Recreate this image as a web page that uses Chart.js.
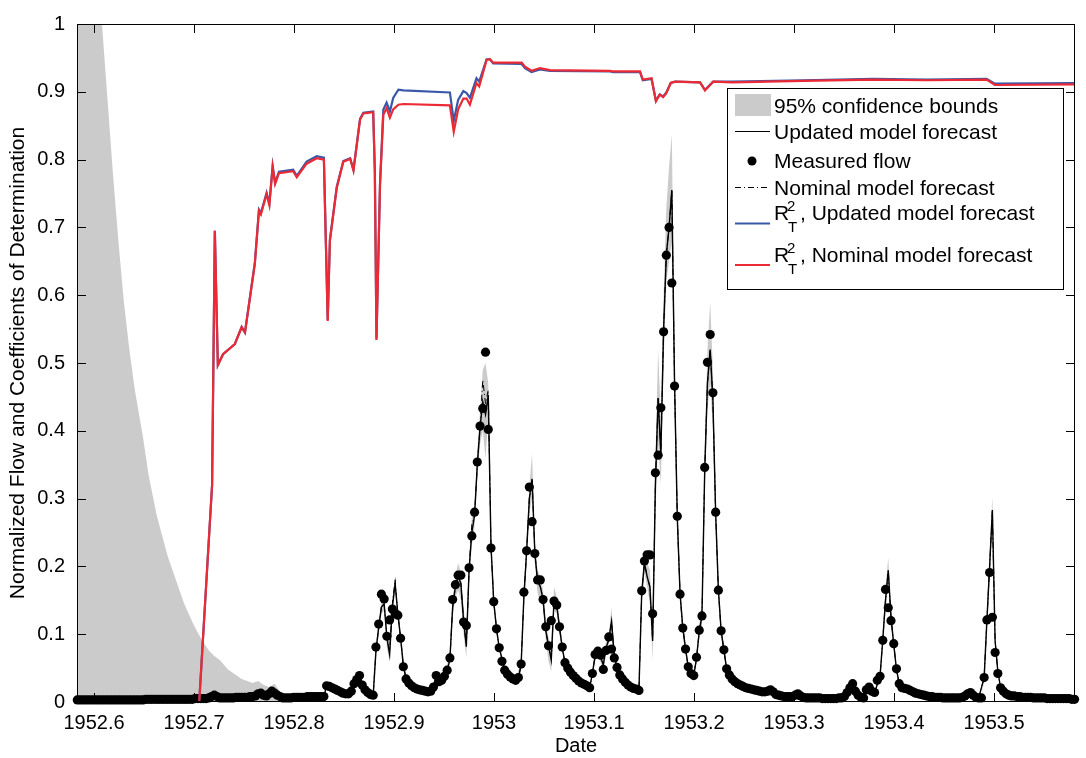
<!DOCTYPE html>
<html>
<head>
<meta charset="utf-8">
<title>Normalized flow forecast</title>
<script src="https://cdn.jsdelivr.net/npm/chart.js@4.4.0/dist/chart.umd.min.js"></script>
<style>
  html, body { margin: 0; padding: 0; background: #fff; }
  #wrap { width: 1086px; height: 758px; }
</style>
</head>
<body>
<div id="wrap"><canvas id="flowChart" width="1086" height="758"></canvas></div>
<script>
// first measured day, as decimal year; one value per day after that
var startYear = 1952.5833;

var measuredFlow = [
  0.003, 0.003, 0.003, 0.003, 0.003, 0.003, 0.003, 0.003, 0.003, 0.003,
  0.003, 0.003, 0.003, 0.003, 0.003, 0.003, 0.003, 0.003, 0.003, 0.003,
  0.003, 0.003, 0.003, 0.003, 0.003, 0.004, 0.004, 0.004, 0.004, 0.004,
  0.004, 0.004, 0.004, 0.004, 0.004, 0.004, 0.004, 0.004, 0.004, 0.004,
  0.004, 0.004, 0.004, 0.005, 0.005, 0.005, 0.005, 0.005, 0.006, 0.008,
  0.010, 0.008, 0.006, 0.006, 0.006, 0.006, 0.006, 0.006, 0.007, 0.007,
  0.007, 0.007, 0.007, 0.008, 0.008, 0.009, 0.012, 0.013, 0.010, 0.009,
  0.012, 0.016, 0.013, 0.010, 0.008, 0.006, 0.006, 0.006, 0.006, 0.007,
  0.007, 0.007, 0.007, 0.007, 0.008, 0.008, 0.008, 0.008, 0.008, 0.008,
  0.008, 0.024, 0.023, 0.021, 0.019, 0.017, 0.015, 0.013, 0.012, 0.012,
  0.016, 0.027, 0.033, 0.039, 0.025, 0.018, 0.014, 0.011, 0.010, 0.081,
  0.115, 0.159, 0.152, 0.097, 0.121, 0.137, 0.130, 0.128, 0.094, 0.052,
  0.034, 0.028, 0.024, 0.021, 0.019, 0.018, 0.017, 0.016, 0.015, 0.016,
  0.022, 0.039, 0.030, 0.032, 0.038, 0.047, 0.065, 0.151, 0.173, 0.187,
  0.187, 0.118, 0.113, 0.198, 0.245, 0.280, 0.354, 0.407, 0.433, 0.516,
  0.402, 0.227, 0.148, 0.108, 0.080, 0.060, 0.047, 0.041, 0.037, 0.034,
  0.032, 0.036, 0.056, 0.162, 0.223, 0.317, 0.266, 0.219, 0.180, 0.180,
  0.151, 0.111, 0.083, 0.120, 0.149, 0.143, 0.111, 0.081, 0.058, 0.050,
  0.044, 0.039, 0.035, 0.031, 0.028, 0.026, 0.024, 0.021, 0.042, 0.070,
  0.075, 0.069, 0.048, 0.076, 0.096, 0.078, 0.065, 0.051, 0.040, 0.034,
  0.029, 0.025, 0.022, 0.020, 0.019, 0.017, 0.164, 0.208, 0.217, 0.217,
  0.130, 0.338, 0.364, 0.434, 0.546, 0.659, 0.700, 0.618, 0.466, 0.274,
  0.159, 0.109, 0.078, 0.052, 0.042, 0.039, 0.066, 0.106, 0.127, 0.346,
  0.501, 0.542, 0.456, 0.280, 0.165, 0.105, 0.077, 0.049, 0.040, 0.034,
  0.030, 0.027, 0.025, 0.023, 0.021, 0.020, 0.019, 0.018, 0.017, 0.016,
  0.015, 0.015, 0.016, 0.018, 0.015, 0.011, 0.010, 0.009, 0.008, 0.008,
  0.008, 0.008, 0.010, 0.012, 0.009, 0.007, 0.006, 0.006, 0.006, 0.006,
  0.006, 0.006, 0.005, 0.005, 0.005, 0.005, 0.005, 0.005, 0.006, 0.006,
  0.008, 0.014, 0.021, 0.027, 0.016, 0.010, 0.007, 0.006, 0.018, 0.022,
  0.016, 0.014, 0.032, 0.038, 0.091, 0.166, 0.139, 0.120, 0.086, 0.049,
  0.027, 0.021, 0.020, 0.019, 0.017, 0.015, 0.013, 0.012, 0.011, 0.010,
  0.009, 0.008, 0.008, 0.007, 0.007, 0.007, 0.006, 0.006, 0.006, 0.006,
  0.006, 0.006, 0.006, 0.007, 0.009, 0.012, 0.014, 0.010, 0.007, 0.006,
  0.006, 0.036, 0.121, 0.191, 0.125, 0.073, 0.042, 0.021, 0.016, 0.012,
  0.010, 0.009, 0.009, 0.008, 0.008, 0.007, 0.007, 0.007, 0.007, 0.006,
  0.006, 0.006, 0.006, 0.006, 0.005, 0.005, 0.005, 0.005, 0.005, 0.005,
  0.005, 0.005, 0.005, 0.004, 0.004
];

// model forecasts, given at key days (day number from startYear)
var fcstDays = [
  0, 42, 49, 50, 52, 63, 66, 67, 69, 71,
  73, 75, 79, 90, 91, 99, 101, 103, 105, 108,
  109, 110, 111, 112, 113, 114, 115, 116, 117, 118,
  119, 120, 125, 129, 131, 133, 135, 136, 137, 138,
  139, 140, 141, 142, 143, 144, 145, 146, 147, 148,
  149, 150, 151, 152, 153, 154, 156, 158, 160, 161,
  162, 163, 164, 165, 166, 167, 168, 169, 170, 171,
  172, 173, 174, 175, 176, 177, 178, 181, 187, 188,
  189, 190, 191, 192, 193, 194, 195, 196, 197, 199,
  205, 206, 207, 208, 209, 210, 211, 212, 213, 214,
  215, 216, 217, 218, 219, 220, 221, 222, 223, 225,
  226, 227, 228, 229, 230, 231, 232, 233, 234, 235,
  236, 237, 240, 245, 250, 253, 256, 262, 263, 265,
  280, 283, 286, 289, 291, 293, 294, 295, 296, 297,
  298, 299, 300, 305, 312, 320, 326, 329, 331, 332,
  333, 334, 335, 336, 337, 340, 364
];
var updatedFcst = [
  0.003, 0.004, 0.007, 0.010, 0.006, 0.008, 0.012, 0.013, 0.009, 0.016,
  0.010, 0.006, 0.007, 0.008, 0.024, 0.012, 0.027, 0.039, 0.018, 0.010,
  0.075, 0.110, 0.140, 0.145, 0.095, 0.070, 0.140, 0.175, 0.130, 0.095,
  0.053, 0.035, 0.018, 0.016, 0.036, 0.032, 0.046, 0.063, 0.140, 0.170,
  0.185, 0.175, 0.120, 0.082, 0.195, 0.250, 0.275, 0.350, 0.405, 0.443,
  0.424, 0.453, 0.230, 0.148, 0.108, 0.080, 0.048, 0.037, 0.032, 0.035,
  0.055, 0.155, 0.222, 0.300, 0.329, 0.220, 0.178, 0.170, 0.152, 0.105,
  0.083, 0.062, 0.150, 0.143, 0.110, 0.080, 0.058, 0.039, 0.021, 0.042,
  0.068, 0.075, 0.066, 0.055, 0.080, 0.092, 0.119, 0.068, 0.051, 0.034,
  0.017, 0.160, 0.205, 0.185, 0.170, 0.090, 0.320, 0.448, 0.366, 0.550,
  0.660, 0.700, 0.755, 0.470, 0.272, 0.160, 0.110, 0.078, 0.052, 0.039,
  0.064, 0.104, 0.127, 0.340, 0.470, 0.520, 0.445, 0.278, 0.165, 0.105,
  0.077, 0.049, 0.030, 0.020, 0.015, 0.018, 0.010, 0.009, 0.012, 0.007,
  0.007, 0.027, 0.007, 0.022, 0.014, 0.038, 0.092, 0.150, 0.194, 0.125,
  0.085, 0.048, 0.027, 0.015, 0.008, 0.006, 0.014, 0.006, 0.036, 0.120,
  0.200, 0.283, 0.090, 0.045, 0.021, 0.010, 0.005
];
var nominalFcst = [
  0.003, 0.004, 0.007, 0.010, 0.006, 0.008, 0.012, 0.013, 0.009, 0.016,
  0.010, 0.006, 0.007, 0.008, 0.024, 0.012, 0.027, 0.039, 0.018, 0.010,
  0.075, 0.110, 0.140, 0.145, 0.095, 0.075, 0.145, 0.180, 0.130, 0.095,
  0.053, 0.035, 0.018, 0.016, 0.036, 0.032, 0.046, 0.063, 0.140, 0.170,
  0.185, 0.175, 0.120, 0.082, 0.195, 0.262, 0.275, 0.350, 0.405, 0.475,
  0.440, 0.460, 0.230, 0.148, 0.108, 0.080, 0.048, 0.037, 0.032, 0.035,
  0.055, 0.155, 0.222, 0.300, 0.329, 0.220, 0.178, 0.170, 0.152, 0.105,
  0.083, 0.062, 0.150, 0.143, 0.110, 0.080, 0.058, 0.039, 0.021, 0.042,
  0.068, 0.075, 0.066, 0.055, 0.080, 0.092, 0.119, 0.068, 0.051, 0.034,
  0.017, 0.160, 0.205, 0.185, 0.170, 0.090, 0.320, 0.448, 0.366, 0.550,
  0.660, 0.700, 0.755, 0.470, 0.272, 0.160, 0.110, 0.078, 0.052, 0.039,
  0.064, 0.104, 0.127, 0.340, 0.470, 0.520, 0.445, 0.278, 0.165, 0.105,
  0.077, 0.049, 0.030, 0.020, 0.015, 0.018, 0.010, 0.009, 0.012, 0.007,
  0.007, 0.027, 0.007, 0.022, 0.014, 0.038, 0.092, 0.150, 0.194, 0.125,
  0.085, 0.048, 0.027, 0.015, 0.008, 0.006, 0.014, 0.006, 0.036, 0.120,
  0.200, 0.283, 0.090, 0.045, 0.021, 0.010, 0.005
];

// 95% confidence bounds of the updated forecast
var bandDays = [
  0, 4, 7, 9, 11, 13, 15, 17, 19, 21,
  24, 26, 29, 31, 33, 36, 39, 42, 44, 46,
  48, 50, 52, 55, 60, 64, 66, 68, 70, 72,
  74, 76, 79, 90, 91, 99, 103, 105, 108, 109,
  111, 112, 113, 114, 115, 116, 117, 118, 120, 125,
  129, 131, 133, 136, 137, 138, 139, 140, 141, 142,
  143, 144, 145, 146, 147, 148, 149, 150, 151, 152,
  154, 156, 160, 162, 163, 164, 165, 166, 167, 168,
  169, 170, 171, 172, 173, 174, 175, 176, 178, 181,
  187, 188, 189, 190, 191, 192, 193, 194, 195, 196,
  198, 199, 205, 206, 207, 208, 209, 210, 211, 212,
  213, 214, 215, 216, 217, 218, 219, 220, 221, 223,
  225, 226, 227, 228, 229, 230, 231, 232, 233, 234,
  235, 237, 240, 245, 250, 256, 265, 280, 283, 286,
  289, 291, 293, 294, 295, 296, 297, 298, 299, 300,
  305, 320, 326, 329, 330, 331, 332, 333, 334, 335,
  336, 337, 340, 364
];
var bandUpper = [
  1.9, 1.4, 1.12, 1.0, 0.89, 0.78, 0.68, 0.59, 0.52, 0.46,
  0.39, 0.335, 0.275, 0.245, 0.215, 0.18, 0.145, 0.118, 0.102, 0.088,
  0.076, 0.068, 0.062, 0.048, 0.034, 0.028, 0.031, 0.025, 0.022, 0.027,
  0.015, 0.008, 0.009, 0.010, 0.026, 0.013, 0.041, 0.020, 0.012, 0.080,
  0.150, 0.152, 0.105, 0.085, 0.150, 0.182, 0.140, 0.100, 0.037, 0.019,
  0.017, 0.038, 0.034, 0.068, 0.155, 0.185, 0.205, 0.190, 0.140, 0.100,
  0.210, 0.275, 0.290, 0.370, 0.430, 0.490, 0.500, 0.470, 0.245, 0.155,
  0.084, 0.050, 0.034, 0.060, 0.170, 0.240, 0.320, 0.366, 0.235, 0.195,
  0.185, 0.165, 0.120, 0.095, 0.080, 0.170, 0.155, 0.120, 0.062, 0.041,
  0.023, 0.046, 0.075, 0.082, 0.075, 0.065, 0.090, 0.100, 0.140, 0.075,
  0.042, 0.036, 0.019, 0.175, 0.225, 0.205, 0.195, 0.120, 0.360, 0.520,
  0.420, 0.600, 0.730, 0.790, 0.837, 0.520, 0.300, 0.175, 0.120, 0.058,
  0.043, 0.070, 0.115, 0.145, 0.370, 0.520, 0.590, 0.490, 0.300, 0.180,
  0.115, 0.054, 0.032, 0.021, 0.016, 0.011, 0.008, 0.008, 0.029, 0.008,
  0.024, 0.016, 0.040, 0.100, 0.170, 0.213, 0.138, 0.093, 0.053, 0.029,
  0.016, 0.007, 0.015, 0.007, 0.007, 0.040, 0.135, 0.220, 0.303, 0.100,
  0.050, 0.023, 0.011, 0.006
];
var bandLower = [
  0, 0, 0, 0, 0, 0, 0, 0, 0, 0,
  0, 0, 0, 0, 0, 0, 0, 0, 0, 0,
  0, 0, 0, 0, 0, 0, 0, 0, 0, 0,
  0, -0.002, -0.004, 0.006, 0.022, 0.011, 0.037, 0.016, 0.008, 0.068,
  0.130, 0.135, 0.080, 0.060, 0.130, 0.165, 0.120, 0.090, 0.033, 0.017,
  0.015, 0.034, 0.030, 0.058, 0.125, 0.155, 0.165, 0.150, 0.100, 0.065,
  0.180, 0.230, 0.260, 0.330, 0.380, 0.400, 0.360, 0.420, 0.215, 0.140,
  0.076, 0.046, 0.030, 0.050, 0.140, 0.205, 0.280, 0.300, 0.205, 0.160,
  0.150, 0.140, 0.090, 0.060, 0.045, 0.135, 0.130, 0.100, 0.054, 0.037,
  0.019, 0.038, 0.060, 0.068, 0.058, 0.045, 0.070, 0.085, 0.100, 0.060,
  0.036, 0.032, 0.015, 0.145, 0.190, 0.170, 0.145, 0.060, 0.280, 0.380,
  0.320, 0.500, 0.620, 0.650, 0.680, 0.420, 0.245, 0.145, 0.100, 0.047,
  0.035, 0.058, 0.093, 0.110, 0.310, 0.430, 0.470, 0.400, 0.255, 0.150,
  0.095, 0.044, 0.028, 0.019, 0.014, 0.009, 0.006, 0.006, 0.025, 0.006,
  0.020, 0.012, 0.036, 0.085, 0.135, 0.175, 0.112, 0.077, 0.043, 0.025,
  0.014, 0.005, 0.013, 0.005, 0.005, 0.032, 0.105, 0.180, 0.262, 0.080,
  0.040, 0.019, 0.009, 0.004
];

// coefficients of determination R^2_T
var r2Days = [
  44.5, 49.2, 50.2, 51.3, 53.2, 57.5, 60.0, 61.2, 64.8, 66.3,
  67.0, 69.1, 70.1, 71.3, 72.2, 73.6, 78.8, 80.1, 83.7, 87.4,
  90.0, 91.4, 92.2, 94.7, 97.1, 99.6, 100.8, 103.2, 104.4, 108.0,
  108.6, 109.2, 110.5, 111.7, 112.9, 114.1, 115.3, 117.2, 119.0, 136.0,
  137.4, 139.0, 140.9, 142.1, 143.3, 145.7, 146.7, 149.4, 150.6, 151.8,
  162.2, 163.4, 165.8, 168.9, 172.5, 194.4, 195.6, 205.4, 206.4, 209.6,
  211.2, 212.6, 213.8, 215.0, 216.6, 218.2, 227.3, 229.1, 232.1, 239.0,
  265.0, 290.5, 310.0, 331.9, 334.9, 364.0
];
var r2Updated = [
  0.000, 0.320, 0.695, 0.497, 0.513, 0.528, 0.553, 0.545, 0.648, 0.726,
  0.721, 0.751, 0.735, 0.791, 0.766, 0.782, 0.785, 0.776, 0.797, 0.805,
  0.803, 0.564, 0.682, 0.760, 0.798, 0.802, 0.785, 0.860, 0.869, 0.871,
  0.784, 0.536, 0.766, 0.874, 0.884, 0.871, 0.891, 0.903, 0.902, 0.899,
  0.857, 0.888, 0.901, 0.898, 0.891, 0.920, 0.915, 0.948, 0.948, 0.942,
  0.941, 0.935, 0.929, 0.933, 0.931, 0.930, 0.929, 0.929, 0.917, 0.919,
  0.887, 0.896, 0.893, 0.899, 0.913, 0.915, 0.914, 0.903, 0.915, 0.915,
  0.917, 0.919, 0.918, 0.919, 0.912, 0.913
];
var r2Nominal = [
  0.000, 0.320, 0.695, 0.497, 0.513, 0.528, 0.553, 0.545, 0.646, 0.724,
  0.719, 0.749, 0.733, 0.789, 0.764, 0.780, 0.783, 0.774, 0.794, 0.802,
  0.800, 0.562, 0.680, 0.758, 0.797, 0.801, 0.784, 0.859, 0.868, 0.870,
  0.782, 0.534, 0.763, 0.866, 0.876, 0.862, 0.874, 0.881, 0.882, 0.880,
  0.841, 0.874, 0.890, 0.890, 0.881, 0.913, 0.908, 0.947, 0.948, 0.943,
  0.943, 0.937, 0.931, 0.935, 0.932, 0.931, 0.930, 0.930, 0.918, 0.920,
  0.886, 0.896, 0.892, 0.898, 0.913, 0.915, 0.914, 0.902, 0.915, 0.914,
  0.916, 0.918, 0.917, 0.918, 0.910, 0.911
];

var xTicks = [1952.6, 1952.7, 1952.8, 1952.9, 1953.0, 1953.1, 1953.2, 1953.3, 1953.4, 1953.5];
var xTickLabels = ['1952.6', '1952.7', '1952.8', '1952.9', '1953', '1953.1', '1953.2', '1953.3', '1953.4', '1953.5'];
var yTicks = [0, 0.1, 0.2, 0.3, 0.4, 0.5, 0.6, 0.7, 0.8, 0.9, 1];
var yTickLabels = ['0', '0.1', '0.2', '0.3', '0.4', '0.5', '0.6', '0.7', '0.8', '0.9', '1'];

var FONT = "'Liberation Sans', Arial, Helvetica, sans-serif";
var GREY = '#cbcbcb';
var BLUE = '#3a58a8';
var RED = '#ec2a35';

function toYear(day) {
  return startYear + day / 365;
}
function points(days, vals) {
  return days.map(function (d, i) { return { x: toYear(d), y: vals[i] }; });
}

// axes box with inward ticks on all four sides
var axesBox = {
  id: 'axesBox',
  afterDatasetsDraw: function (chart) {
    var ctx = chart.ctx, a = chart.chartArea;
    var x = chart.scales.x, y = chart.scales.y;
    ctx.save();
    ctx.strokeStyle = '#000';
    ctx.lineWidth = 1;
    ctx.beginPath();
    xTicks.forEach(function (v) {
      var px = Math.round(x.getPixelForValue(v)) + 0.5;
      ctx.moveTo(px, a.bottom); ctx.lineTo(px, a.bottom - 9);
      ctx.moveTo(px, a.top); ctx.lineTo(px, a.top + 9);
    });
    yTicks.forEach(function (v) {
      var py = Math.round(y.getPixelForValue(v)) + 0.5;
      ctx.moveTo(a.left, py); ctx.lineTo(a.left + 9, py);
      ctx.moveTo(a.right, py); ctx.lineTo(a.right - 9, py);
    });
    ctx.stroke();
    ctx.strokeRect(a.left + 0.5, a.top + 0.5, a.right - a.left - 1, a.bottom - a.top - 1);
    ctx.restore();
  }
};

// legend drawn by hand: R^2_T needs a superscript and a subscript
var legendBox = {
  id: 'legendBox',
  afterDraw: function (chart) {
    var ctx = chart.ctx;
    var ds = chart.data.datasets;
    var L = 727, T = 88, W = 336, H = 201;
    var sx0 = 735, sx1 = 770, tx = 774;
    ctx.save();
    ctx.fillStyle = '#fff';
    ctx.fillRect(L, T, W, H);
    ctx.strokeStyle = '#000';
    ctx.lineWidth = 1;
    ctx.strokeRect(L + 0.5, T + 0.5, W, H);

    ctx.fillStyle = '#000';
    ctx.textBaseline = 'alphabetic';
    ctx.font = '21px ' + FONT;

    // confidence bounds
    ctx.fillStyle = ds[1].backgroundColor;
    ctx.fillRect(sx0, 94, sx1 - sx0 + 1, 22);
    ctx.fillStyle = '#000';
    ctx.fillText(ds[1].label, tx, 112.5);

    // updated model forecast
    ctx.strokeStyle = ds[2].borderColor;
    ctx.lineWidth = 1.2;
    ctx.beginPath(); ctx.moveTo(sx0, 131.5); ctx.lineTo(sx1, 131.5); ctx.stroke();
    ctx.fillText(ds[2].label, tx, 138.5);

    // measured flow
    ctx.beginPath(); ctx.arc(752, 161, 4.5, 0, Math.PI * 2); ctx.fill();
    ctx.fillText(ds[3].label, tx, 167.5);

    // nominal model forecast
    ctx.lineWidth = 1;
    ctx.setLineDash(ds[4].borderDash);
    ctx.beginPath(); ctx.moveTo(sx0, 187.5); ctx.lineTo(sx1, 187.5); ctx.stroke();
    ctx.setLineDash([]);
    ctx.fillText(ds[4].label, tx, 195);

    // R^2_T rows
    [[5, 220, 223.5], [6, 262, 265]].forEach(function (r) {
      var d = ds[r[0]], base = r[1];
      ctx.strokeStyle = d.borderColor;
      ctx.lineWidth = 2;
      ctx.beginPath(); ctx.moveTo(sx0, r[2]); ctx.lineTo(sx1, r[2]); ctx.stroke();
      ctx.font = '21px ' + FONT;
      ctx.fillText('R', tx, base);
      ctx.font = '15px ' + FONT;
      ctx.fillText('2', 787, base - 9.5);
      ctx.fillText('T', 788, base + 12);
      ctx.font = '21px ' + FONT;
      ctx.fillText(d.label.replace('R\u00b2\u209c', ''), 800, base);
    });
    ctx.restore();
  }
};

var ctx = document.getElementById('flowChart').getContext('2d');
var flowChart = new Chart(ctx, {
  type: 'line',
  data: {
    datasets: [
      {
        label: 'lower bound',
        data: points(bandDays, bandLower),
        borderColor: 'rgba(0,0,0,0)',
        backgroundColor: 'rgba(0,0,0,0)',
        borderWidth: 0,
        pointRadius: 0,
        fill: false,
        order: 10
      },
      {
        label: '95% confidence bounds',
        data: points(bandDays, bandUpper),
        borderColor: 'rgba(0,0,0,0)',
        backgroundColor: GREY,
        borderWidth: 0,
        pointRadius: 0,
        fill: '-1',
        order: 9
      },
      {
        label: 'Updated model forecast',
        data: points(fcstDays, updatedFcst),
        borderColor: '#000',
        borderWidth: 1.4,
        pointRadius: 0,
        fill: false,
        order: 8
      },
      {
        label: 'Measured flow',
        data: measuredFlow.map(function (v, i) { return { x: toYear(i), y: v }; }),
        showLine: false,
        pointRadius: 4.6,
        pointBackgroundColor: '#000',
        pointBorderWidth: 0,
        borderColor: '#000',
        clip: false,
        order: 7
      },
      {
        label: 'Nominal model forecast',
        data: points(fcstDays, nominalFcst),
        borderColor: '#000',
        borderWidth: 1,
        borderDash: [6, 3, 1, 3],
        pointRadius: 0,
        fill: false,
        order: 6
      },
      {
        label: 'R\u00b2\u209c, Updated model forecast',
        data: points(r2Days, r2Updated),
        borderColor: BLUE,
        borderWidth: 2.2,
        pointRadius: 0,
        fill: false,
        order: 5
      },
      {
        label: 'R\u00b2\u209c, Nominal model forecast',
        data: points(r2Days, r2Nominal),
        borderColor: RED,
        borderWidth: 2.2,
        pointRadius: 0,
        fill: false,
        order: 4
      }
    ]
  },
  options: {
    responsive: false,
    animation: false,
    devicePixelRatio: 1,
    layout: { padding: { top: 13, right: 11, left: 0, bottom: 0 } },
    elements: { line: { tension: 0 } },
    plugins: {
      legend: { display: false },
      tooltip: { enabled: false }
    },
    scales: {
      x: {
        type: 'linear',
        min: 1952.583,
        max: 1953.581,
        grid: { display: false, drawTicks: false },
        border: { display: false },
        afterBuildTicks: function (axis) {
          axis.ticks = xTicks.map(function (v) { return { value: v }; });
        },
        afterFit: function (axis) { axis.height = 56; },
        ticks: {
          autoSkip: false,
          maxRotation: 0,
          padding: 9,
          color: '#000',
          font: { family: FONT, size: 20 },
          callback: function (v, i) { return xTickLabels[i]; }
        },
        title: {
          display: true,
          text: 'Date',
          color: '#000',
          font: { family: FONT, size: 20 },
          padding: { top: 0, bottom: 0 }
        }
      },
      y: {
        type: 'linear',
        min: 0,
        max: 1,
        grid: { display: false, drawTicks: false },
        border: { display: false },
        afterBuildTicks: function (axis) {
          axis.ticks = yTicks.map(function (v) { return { value: v }; });
        },
        afterFit: function (axis) { axis.width = 77; },
        ticks: {
          autoSkip: false,
          padding: 12,
          color: '#000',
          font: { family: FONT, size: 20 },
          callback: function (v, i) { return yTickLabels[i]; }
        },
        title: {
          display: true,
          text: 'Normalized Flow and Coefficients of Determination',
          color: '#000',
          font: { family: FONT, size: 21 },
          padding: { top: 6, bottom: 0 }
        }
      }
    }
  },
  plugins: [axesBox, legendBox]
});
</script>
</body>
</html>
